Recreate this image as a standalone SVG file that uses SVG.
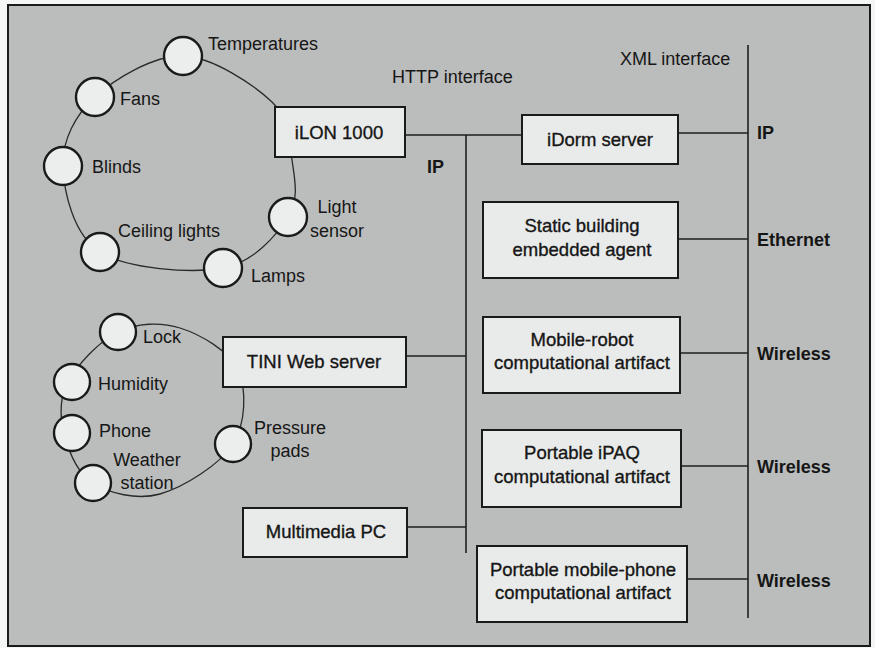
<svg xmlns="http://www.w3.org/2000/svg" width="875" height="648" viewBox="0 0 875 648">
<style>
text{font-family:"Liberation Sans",Arial,sans-serif;font-size:18px;fill:#161616}
.bx text{font-size:18.5px;text-anchor:middle;stroke:#161616;stroke-width:0.35}
.b{font-weight:bold}
.m{text-anchor:middle}
.box{fill:#e9ebea;stroke:#1a1a1a;stroke-width:2}
.dev{fill:#eceeed;stroke:#1a1a1a;stroke-width:2.4}
.ring{fill:none;stroke:#2a2a2a;stroke-width:1.3}
.ln{fill:none;stroke:#1e1e1e;stroke-width:1.6}
</style>
<rect x="0" y="0" width="875" height="648" fill="#f4f6f5"/>
<rect x="8" y="5" width="862" height="641" fill="#bbbdbc" stroke="#1a1a1a" stroke-width="2"/>

<g id="rings">
<path class="ring" d="M183,56 C212.5,56.8 253.8,84.7 272,102 C290.2,119.3 289.3,140.8 292,160 C294.7,179.2 299.5,199 288,217 C276.5,235 254.3,262.2 223,268 C191.7,273.8 126.7,269 100,252 C73.3,235 63.8,191.8 63,166 C62.2,140.2 75,115.3 95,97 C115,78.7 153.5,55.2 183,56 Z"/>
<path class="ring" d="M118,332 C136.7,323 160,321.7 180,328 C200,334.3 229.2,350.7 238,370 C246.8,389.3 246,423.3 233,444 C220,464.7 183.3,487.5 160,494 C136.7,500.5 109,493.2 93,483 C77,472.8 68.2,449.8 64,433 C59.8,416.2 59,398.8 68,382 C77,365.2 99.3,341 118,332 Z"/>
</g>

<g id="connectors">
<line class="ln" x1="405" y1="135" x2="522" y2="135"/>
<line class="ln" x1="466" y1="135" x2="466" y2="553"/>
<line class="ln" x1="406" y1="356" x2="466" y2="356"/>
<line class="ln" x1="407" y1="527" x2="466" y2="527"/>
<line class="ln" x1="748" y1="45" x2="748" y2="618"/>
<line class="ln" x1="678" y1="133" x2="748" y2="133"/>
<line class="ln" x1="678" y1="239" x2="748" y2="239"/>
<line class="ln" x1="680" y1="353" x2="748" y2="353"/>
<line class="ln" x1="681" y1="466" x2="748" y2="466"/>
<line class="ln" x1="687" y1="579" x2="748" y2="579"/>
</g>

<g id="temperatures"><circle class="dev" cx="183" cy="56" r="19"/><text x="208" y="50">Temperatures</text></g>
<g id="fans"><circle class="dev" cx="95" cy="97" r="19"/><text x="120" y="105">Fans</text></g>
<g id="blinds"><circle class="dev" cx="63" cy="166" r="19"/><text x="92" y="173">Blinds</text></g>
<g id="ceiling-lights"><circle class="dev" cx="100" cy="252" r="19"/><text x="118" y="237">Ceiling lights</text></g>
<g id="lamps"><circle class="dev" cx="223" cy="268" r="19"/><text x="251" y="282">Lamps</text></g>
<g id="light-sensor"><circle class="dev" cx="288" cy="217" r="19"/><text class="m" x="337" y="213">Light</text><text class="m" x="337" y="237">sensor</text></g>

<g id="lock"><circle class="dev" cx="118" cy="332" r="18"/><text x="143" y="343">Lock</text></g>
<g id="humidity"><circle class="dev" cx="72" cy="382" r="18"/><text x="98" y="390">Humidity</text></g>
<g id="phone"><circle class="dev" cx="72" cy="433" r="18"/><text x="99" y="437">Phone</text></g>
<g id="weather-station"><circle class="dev" cx="93" cy="483" r="18"/><text class="m" x="147" y="466">Weather</text><text class="m" x="147" y="489">station</text></g>
<g id="pressure-pads"><circle class="dev" cx="233" cy="444" r="18"/><text class="m" x="290" y="434">Pressure</text><text class="m" x="290" y="457">pads</text></g>

<g id="ilon" class="bx"><rect class="box" x="275" y="107" width="130" height="50"/><text x="339" y="139">iLON 1000</text></g>
<g id="tini" class="bx"><rect class="box" x="223" y="337" width="183" height="50"/><text x="314" y="368">TINI Web server</text></g>
<g id="multimedia-pc" class="bx"><rect class="box" x="243" y="508" width="164" height="49"/><text x="326" y="538">Multimedia PC</text></g>
<g id="idorm" class="bx"><rect class="box" x="522" y="115" width="156" height="49"/><text x="600" y="146">iDorm server</text></g>
<g id="static-agent" class="bx"><rect class="box" x="483" y="202" width="195" height="76"/><text x="582" y="232">Static building</text><text x="582" y="256">embedded agent</text></g>
<g id="mobile-robot" class="bx"><rect class="box" x="483" y="317" width="197" height="76"/><text x="582" y="346">Mobile-robot</text><text x="582" y="369">computational artifact</text></g>
<g id="ipaq" class="bx"><rect class="box" x="482" y="430" width="199" height="77"/><text x="582" y="459">Portable iPAQ</text><text x="582" y="483">computational artifact</text></g>
<g id="mobile-phone" class="bx"><rect class="box" x="477" y="546" width="210" height="76"/><text x="583" y="576">Portable mobile-phone</text><text x="583" y="599">computational artifact</text></g>

<g id="labels">
<text x="392" y="83">HTTP interface</text>
<text class="b" x="427" y="173">IP</text>
<text x="620" y="65">XML interface</text>
<text class="b" x="757" y="139">IP</text>
<text class="b" x="757" y="246">Ethernet</text>
<text class="b" x="757" y="360">Wireless</text>
<text class="b" x="757" y="473">Wireless</text>
<text class="b" x="757" y="587">Wireless</text>
</g>
</svg>
